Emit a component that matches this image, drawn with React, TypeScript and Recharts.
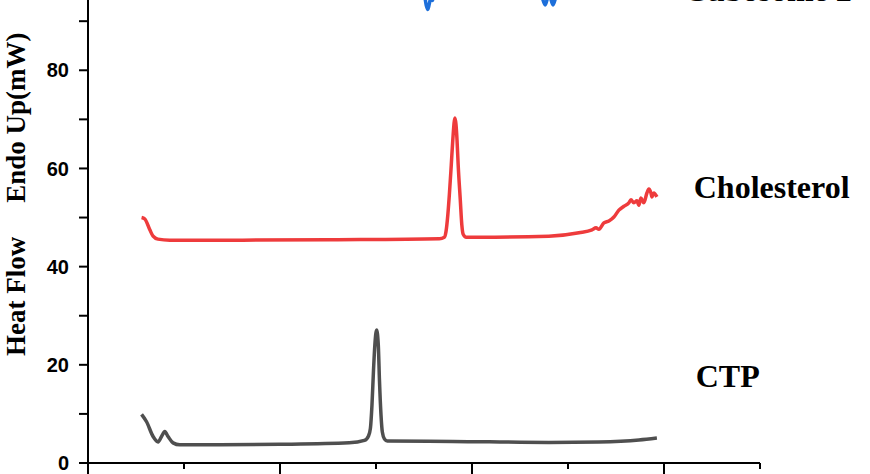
import React from 'react';
import { LineChart, Line, XAxis, YAxis, ReferenceDot } from 'recharts';

// Temperature (x) and heat-flow (y, mW) readings per series
const ctpTemp = [27.9, 30.5, 33.9, 36.5, 38.3, 40.0, 41.7, 44.3, 47.8, 68.6, 100, 136, 144.0, 146.1, 147.1, 147.9, 148.7, 149.4, 150.3, 151.2, 151.8, 152.6, 153.3, 154.4, 155.9, 190, 240, 266, 287, 296.3];
const ctpFlow = [9.9, 8.4, 5.4, 4.3, 5.4, 6.4, 5.4, 4.1, 3.7, 3.7, 3.8, 4.1, 4.6, 5.5, 7.1, 11.8, 18.9, 24.0, 27.1, 24.0, 16.9, 9.8, 6.3, 4.9, 4.5, 4.4, 4.2, 4.3, 4.7, 5.1];

const cholTemp = [27.9, 29.6, 32.2, 33.9, 36.4, 42.6, 80, 130, 183, 185.6, 186.4, 187.4, 188.2, 189.2, 190.0, 191.1, 192.2, 192.8, 193.9, 194.7, 195.4, 197, 204, 240, 255.7, 262.5, 264.6, 266.1, 268.7, 271.3, 273.9, 276.5, 279.1, 281.7, 282.8, 284.3, 285.9, 286.9, 288.0, 289.5, 291.1, 292.1, 293.2, 293.7, 294.7, 296.3];
const cholFlow = [50.0, 49.7, 47.5, 46.2, 45.6, 45.4, 45.4, 45.5, 45.7, 46.0, 47.0, 50.5, 54.6, 60.7, 65.8, 70.3, 65.8, 60.7, 53.6, 48.5, 46.6, 46.0, 46.0, 46.2, 46.9, 47.5, 47.9, 47.6, 48.9, 49.3, 50.1, 51.5, 52.3, 53.0, 53.6, 53.0, 53.4, 52.5, 54.0, 53.0, 55.0, 55.8, 55.0, 54.2, 55.0, 54.2];

const cuboTemp = [28, 110, 172.6, 174.7, 176.2, 177.0, 177.8, 178.6, 179.4, 180.9, 235, 236.5, 238.1, 240.1, 242.2, 244.3, 246, 296.3];
const cuboFlow = [104, 102, 100, 97, 93.2, 92.4, 93.6, 94.8, 94.2, 98, 98, 95, 93.3, 95.5, 93.3, 96, 98, 100];

const xTicks = [0, 50, 100, 150, 200, 250, 300, 350];
const yTicks = [0, 10, 20, 30, 40, 50, 60, 70, 80, 90, 100, 110];

const seriesNames = ['Cubosome 2', 'Cholesterol', 'CTP'];
const seriesColors = ['#1d6fda', '#ee3b3c', '#4f4f4f'];
const labelTemps = [310.3, 315.5, 316.5];
const labelFlows = [94.05, 54.0, 15.5];

const zip = (t: number[], v: number[]) => t.map((x, i) => ({ t: x, v: v[i] }));
const cuboData = zip(cuboTemp, cuboFlow);
const cholData = zip(cholTemp, cholFlow);
const ctpData = zip(ctpTemp, ctpFlow);

const XTick = (props: any) => {
  const { x, y, payload } = props;
  const major = payload.value % 100 === 0;
  const len = major ? 11 : 6;
  return (
    <g>
      <line x1={x} x2={x} y1={y} y2={y + len} stroke="#000" strokeWidth={2} />
    </g>
  );
};

const makeLabel = (name: string) => (p: any) => {
  const vb = p.viewBox || {};
  return (
    <text x={vb.x} y={vb.y} fontFamily="Liberation Serif, Times New Roman" fontWeight={700} fontSize={32} fill="#000">
      {name}
    </text>
  );
};

export default function App() {
  return (
    <div style={{ position: 'absolute', left: 0, top: 0, width: 870, height: 474, overflow: 'hidden', background: '#fff' }}>
      <div style={{ position: 'absolute', left: 0, top: -100 }}>
        <LineChart width={870} height={640} margin={{ top: 23, right: 110, bottom: 37, left: 0 }}>
          <XAxis
            type="number"
            dataKey="t"
            domain={[0, 350]}
            ticks={xTicks}
            allowDataOverflow
            axisLine={{ stroke: '#000', strokeWidth: 2 }}
            tickLine={false}
            tickSize={0}
            tickMargin={0}
            height={40}
            tick={<XTick />}
            interval={0}
          />
          <YAxis
            type="number"
            domain={[0, 110]}
            ticks={yTicks}
            allowDataOverflow
            width={88}
            interval={0}
            axisLine={{ stroke: '#000', strokeWidth: 2 }}
            tickLine={{ stroke: '#000', strokeWidth: 2 }}
            tickSize={9}
            tickMargin={10}
            tickFormatter={(v: number) => (v % 20 === 0 && v <= 80 ? String(v) : '')}
            tick={{ fill: '#000', fontSize: 20, fontWeight: 700, fontFamily: 'Liberation Sans, Arial' }}
            label={{
              content: () => (
                <text
                  x={25}
                  y={456}
                  transform="rotate(-90 25 456)"
                  fontFamily="Liberation Serif, Times New Roman"
                  fontWeight={700}
                  fontSize={27}
                  fill="#000"
                >
                  <tspan>Heat Flow</tspan>
                  <tspan dx={34}>Endo Up(mW)</tspan>
                </text>
              ),
            }}
          />
          <Line data={cuboData} dataKey="v" type="monotone" stroke={seriesColors[0]} strokeWidth={3.5} dot={false} isAnimationActive={false} />
          <Line data={cholData} dataKey="v" type="monotone" stroke={seriesColors[1]} strokeWidth={3.5} dot={false} isAnimationActive={false} />
          <Line data={ctpData} dataKey="v" type="monotone" stroke={seriesColors[2]} strokeWidth={3.5} dot={false} isAnimationActive={false} />
          {seriesNames.map((n, i) => (
            <ReferenceDot
              key={n}
              x={labelTemps[i]}
              y={labelFlows[i]}
              r={0}
              fill="none"
              stroke="none"
              ifOverflow="visible"
              label={{ content: makeLabel(n) }}
            />
          ))}
        </LineChart>
      </div>
    </div>
  );
}
